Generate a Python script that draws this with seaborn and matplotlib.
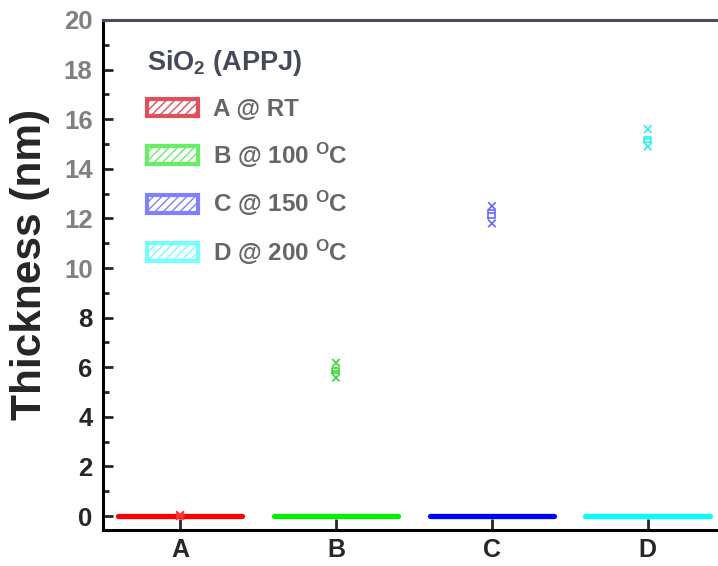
import numpy as np
import pandas as pd
import matplotlib
matplotlib.use("Agg")
import matplotlib.pyplot as plt
import seaborn as sns
from matplotlib.patches import Patch
from matplotlib.ticker import MultipleLocator

# ---- data ----
categories = ["A", "B", "C", "D"]
bar_values = [0.0, 0.0, 0.0, 0.0]
thick_A = [0.0, 0.0, 0.02, 0.04, 0.05]
thick_B = [5.58, 5.75, 5.85, 5.98, 6.18]
thick_C = [11.8, 12.0, 12.2, 12.35, 12.5]
thick_D = [14.9, 15.1, 15.2, 15.3, 15.6]
legend_title = "SiO$_\\mathbf{2}$ (APPJ)"
legend_labels = ["A @ RT", "B @ 100 $^{\\mathbf{O}}$C", "C @ 150 $^{\\mathbf{O}}$C", "D @ 200 $^{\\mathbf{O}}$C"]
colors = ["#ff0000", "#00ee00", "#0000ff", "#00ffff"]
box_colors = ["#ff3030", "#33dd33", "#6666ff", "#33eeee"]
legend_edge = ["#e0505c", "#66ee66", "#7f7fff", "#77ffff"]

sns.set_theme(style="ticks")
plt.rcParams["font.family"] = ["Liberation Sans", "DejaVu Sans"]
plt.rcParams["font.weight"] = "bold"
plt.rcParams["mathtext.fontset"] = "custom"
plt.rcParams["mathtext.rm"] = "Liberation Sans:bold"
plt.rcParams["mathtext.bf"] = "Liberation Sans:bold"
plt.rcParams["mathtext.it"] = "Liberation Sans:bold"

fig = plt.figure(figsize=(7.18, 5.66), dpi=100)
ax = fig.add_axes([0.1435, 0.0636, 0.8565, 0.9011])

bars = pd.DataFrame({"cat": categories, "val": bar_values})
sns.barplot(data=bars, x="cat", y="val", hue="cat", palette=colors, ax=ax,
            width=0.8, legend=False, fill=False, linewidth=3.8)
for p in ax.patches:
    p.set_capstyle("round")
    p.set_joinstyle("round")

series = [thick_A, thick_B, thick_C, thick_D]
long = pd.DataFrame({"cat": np.repeat(categories, [len(s) for s in series]),
                     "val": np.concatenate(series)})
sns.boxplot(data=long, x="cat", y="val", hue="cat", palette=box_colors, ax=ax,
            width=0.045, whis=0, showcaps=False, showfliers=False, fill=False,
            linewidth=1.2, legend=False)

ext = long.groupby("cat", sort=False)["val"].agg(["min", "max"]).reset_index()
ext_long = ext.melt(id_vars="cat", value_name="val")
sns.scatterplot(data=ext_long, x="cat", y="val", hue="cat", palette=box_colors,
                marker="x", s=30, linewidth=1.2, ax=ax, legend=False)

ax.set_xlim(-0.494, 3.45)
ax.set_ylim(-0.56, 20)
ax.yaxis.set_major_locator(MultipleLocator(2))
ax.yaxis.set_minor_locator(MultipleLocator(1))
ax.tick_params(axis="y", which="major", direction="in", length=7, width=2, labelsize=18.5, pad=7.5)
ax.tick_params(axis="y", which="minor", direction="in", length=4, width=2)
ax.tick_params(axis="x", which="major", direction="in", length=8, width=2, labelsize=18, pad=6)
for lab in ax.get_xticklabels() + ax.get_yticklabels():
    lab.set_fontweight("bold")
for val, lab in zip(ax.get_yticks(), ax.get_yticklabels()):
    if val >= 10:
        lab.set_color("#808080")
for s in ["left", "bottom", "top"]:
    ax.spines[s].set_linewidth(2.2)
    ax.spines[s].set_color("black")
ax.spines["top"].set_color("#4a4e60")
ax.spines["right"].set_visible(False)
ax.set_xlabel("")
ax.set_ylabel("Thickness (nm)", fontsize=30.5, fontweight="bold")
ax.yaxis.set_label_coords(-0.087, 0.52)

handles = [Patch(facecolor="white", edgecolor=c, hatch="////", linewidth=3) for c in legend_edge]
leg = ax.legend(handles, legend_labels, title=legend_title, loc="upper left",
                bbox_to_anchor=(0.036, 0.987), frameon=False, fontsize=17.5,
                title_fontproperties={"size": 19.5, "weight": "bold"},
                handlelength=2.1, handleheight=0.75, labelspacing=0.8,
                handletextpad=0.6, alignment="left")
for t in leg.get_texts():
    t.set_color("#666666")
leg.get_title().set_color("#444a5a")

fig.savefig("out.png", dpi=100)
